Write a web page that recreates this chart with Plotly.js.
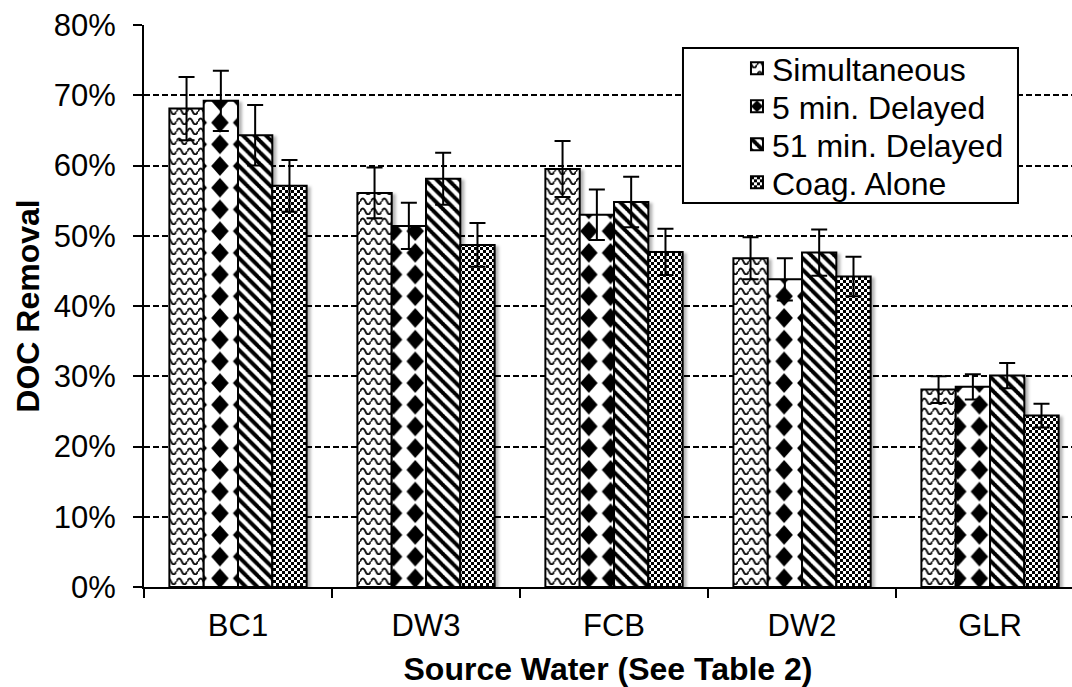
<!DOCTYPE html>
<html>
<head>
<meta charset="utf-8">
<script src="https://cdn.plot.ly/plotly-3.0.1.min.js"></script>
<style>
  html, body { margin: 0; padding: 0; background: #fff; }
  #chart { width: 1072px; height: 687px; }
</style>
</head>
<body>
<!-- Fill patterns for the four treatments, plus a soft bar shadow -->
<svg width="0" height="0" style="position:absolute">
  <defs>
    <pattern id="fillWave" patternUnits="userSpaceOnUse" width="10.8" height="10">
      <rect width="10.8" height="10" fill="#fff"/>
      <path d="M0,6.5 Q2.7,0.5 5.4,6.5 T10.8,6.5" fill="none" stroke="#111" stroke-width="1.9"/>
    </pattern>
    <pattern id="fillDiamond" patternUnits="userSpaceOnUse" width="21.7" height="21.7">
      <rect width="21.7" height="21.7" fill="#fff"/>
      <path d="M10.85,1 L19.6,10.85 L10.85,20.7 L2.1,10.85 Z" fill="#000"/>
    </pattern>
    <pattern id="iconDiamond" patternUnits="objectBoundingBox" patternContentUnits="objectBoundingBox" width="1" height="1">
      <rect width="1" height="1" fill="#fff"/>
      <path d="M0.5,0 L1,0.5 L0.5,1 L0,0.5 Z" fill="#000"/>
    </pattern>
    <pattern id="fillStripe" patternUnits="userSpaceOnUse" width="11.5" height="11.5">
      <rect width="11.5" height="11.5" fill="#fff"/>
      <path d="M-1,-1 L12.5,12.5 M-1,10.5 L1,12.5 M10.5,-1 L12.5,1" stroke="#000" stroke-width="4"/>
    </pattern>
    <pattern id="fillChecker" patternUnits="userSpaceOnUse" width="6" height="6">
      <rect width="6" height="6" fill="#fff"/>
      <rect x="0" y="0" width="3" height="3" fill="#000"/>
      <rect x="3" y="3" width="3" height="3" fill="#000"/>
    </pattern>
    <filter id="barShadow" x="-20%" y="-5%" width="150%" height="115%">
      <feDropShadow dx="3" dy="2" stdDeviation="1.8" flood-color="#000" flood-opacity="0.3"/>
    </filter>
  </defs>
</svg>
<div id="chart"></div>
<script>
// Source waters
const categories = ['BC1', 'DW3', 'FCB', 'DW2', 'GLR'];

// DOC removal (%) by treatment
const simultaneous = [68.1, 56.1, 59.5, 46.8, 28.1];
const delayed5 = [69.2, 51.4, 53.0, 43.8, 28.5];
const delayed51 = [64.3, 58.1, 54.8, 47.6, 30.1];
const coagAlone = [57.1, 48.7, 47.7, 44.2, 24.4];

// Error bar half-widths (%)
const simultaneousErr = [4.5, 3.6, 4.0, 3.0, 1.9];
const delayed5Err = [4.3, 3.3, 3.6, 3.0, 1.8];
const delayed51Err = [4.3, 3.7, 3.6, 3.3, 1.8];
const coagAloneErr = [3.7, 3.1, 3.3, 2.8, 1.7];

const seriesNames = ['Simultaneous', '5 min. Delayed', '51 min. Delayed', 'Coag. Alone'];
const seriesValues = [simultaneous, delayed5, delayed51, coagAlone];
const seriesErrors = [simultaneousErr, delayed5Err, delayed51Err, coagAloneErr];
const seriesFills = ['fillWave', 'fillDiamond', 'fillStripe', 'fillChecker'];
const legendFills = ['fillWave', 'iconDiamond', 'fillStripe', 'fillChecker'];
const fallbackShapes = ['-', '.', '\\', 'x'];

const FONT = 'Liberation Sans, Arial, Helvetica, sans-serif';
const LEGEND_ROW = 38;     // px between legend entries
const LEGEND_ICON_SHIFT = 5;

const traces = seriesNames.map((name, i) => ({
  type: 'bar',
  name: name,
  x: categories,
  y: seriesValues[i],
  marker: {
    color: '#fff',
    line: { color: '#000', width: 2 },
    pattern: { shape: fallbackShapes[i], fgcolor: '#000', bgcolor: '#fff', size: 8, solidity: 0.4 }
  },
  error_y: {
    type: 'data',
    array: seriesErrors[i],
    visible: true,
    color: '#000',
    thickness: 2,
    width: 8
  }
}));

const layout = {
  width: 1072,
  height: 687,
  margin: { l: 144, r: 0, t: 25, b: 100 },
  paper_bgcolor: '#fff',
  plot_bgcolor: '#fff',
  font: { family: FONT, size: 31, color: '#000' },
  barmode: 'group',
  bargap: 0.27,
  bargroupgap: 0,
  showlegend: true,
  legend: {
    x: 0.6336,
    y: 0.9715,
    xanchor: 'left',
    yanchor: 'top',
    bgcolor: 'rgba(0,0,0,0)',
    borderwidth: 0,
    font: { family: FONT, size: 32, color: '#000' },
    tracegroupgap: 0
  },
  xaxis: {
    type: 'category',
    range: [-0.5, 4.436],
    showline: true,
    linecolor: '#000',
    linewidth: 2,
    ticks: 'outside',
    tickson: 'boundaries',
    ticklen: 9,
    tickwidth: 2,
    tickcolor: '#000',
    showgrid: false,
    zeroline: false,
    ticklabelstandoff: 10,
    tickfont: { family: FONT, size: 31, color: '#000' },
    title: {
      text: '<b>Source Water (See Table 2)</b>',
      font: { family: FONT, size: 32, color: '#000' },
      standoff: 15
    }
  },
  yaxis: {
    range: [0, 80],
    dtick: 10,
    ticksuffix: '%',
    showline: true,
    linecolor: '#000',
    linewidth: 2,
    ticks: 'outside',
    ticklen: 9,
    tickwidth: 2,
    tickcolor: '#000',
    showgrid: true,
    gridcolor: '#000',
    gridwidth: 2,
    griddash: '6px,3px',
    zeroline: false,
    ticklabelstandoff: 11,
    tickfont: { family: FONT, size: 31, color: '#000' },
    title: {
      text: '<b>DOC Removal</b>',
      font: { family: FONT, size: 32, color: '#000' },
      standoff: 5
    }
  },
  shapes: [{
    type: 'rect',
    xref: 'paper',
    yref: 'paper',
    x0: 0.5808,
    x1: 0.9418,
    y0: 0.6833,
    y1: 0.959,
    fillcolor: '#fff',
    line: { color: '#000', width: 2 },
    layer: 'above'
  }]
};

const gd = document.getElementById('chart');

function seriesIndex(el, fallback) {
  const d = el.__data__;
  if (d && d[0] && d[0].trace) {
    const k = seriesNames.indexOf(d[0].trace.name);
    if (k >= 0) return k;
  }
  return fallback;
}

// Swap the library's hatch fills for the treatment patterns defined above,
// and tighten the legend rows
function finishChart() {
  gd.querySelectorAll('.barlayer .trace').forEach((tr, i) => {
    const idx = seriesIndex(tr, i);
    tr.querySelectorAll('.point path').forEach(p => {
      p.style.setProperty('fill', 'url(#' + seriesFills[idx] + ')');
      p.style.setProperty('filter', 'url(#barShadow)');
    });
  });

  const items = Array.from(gd.querySelectorAll('.legend .traces'));
  let firstY = null;
  items.forEach((tr, i) => {
    const idx = seriesIndex(tr, i);
    tr.querySelectorAll('.legendpoints path').forEach(p => {
      p.style.setProperty('fill', 'url(#' + legendFills[idx] + ')');
      const t = p.getAttribute('transform') || '';
      p.setAttribute('transform', t + ' translate(' + LEGEND_ICON_SHIFT + ',0)');
    });
    const m = /translate\(\s*([-\d.e]+)[ ,]+([-\d.e]+)\s*\)/.exec(tr.getAttribute('transform') || '');
    if (m) {
      const x = parseFloat(m[1]);
      const y = parseFloat(m[2]);
      if (firstY === null) firstY = y;
      tr.setAttribute('transform', 'translate(' + x + ',' + (firstY + i * LEGEND_ROW) + ')');
    }
  });
}

Plotly.newPlot(gd, traces, layout, { staticPlot: true, displayModeBar: false })
  .then(finishChart);
</script>
</body>
</html>
